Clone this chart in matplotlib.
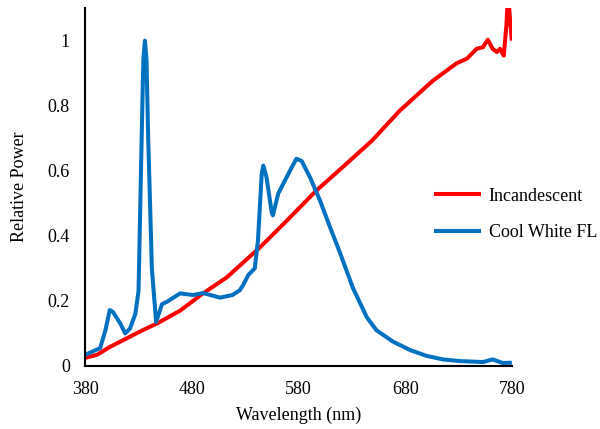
import numpy as np
from matplotlib import pyplot as plt

plt.rcParams['font.family'] = ['Liberation Serif', 'DejaVu Serif']

# Incandescent
wl_inc = [380, 391, 403, 419, 434, 447, 469, 490, 513, 544, 570, 597, 620, 649,
          675, 706, 728, 738, 747, 753, 757.5, 762, 766, 769, 772.5, 775, 776.5, 778, 780]
p_inc = [0.025, 0.034, 0.058, 0.085, 0.11, 0.13, 0.17, 0.222, 0.273, 0.365, 0.45, 0.54, 0.607, 0.693,
         0.785, 0.877, 0.93, 0.945, 0.975, 0.98, 1.003, 0.975, 0.965, 0.975, 0.954, 1.05, 1.15, 1.08, 1.0]

# Cool White FL
wl_cw = [380, 394, 399, 403, 406, 413, 417.5, 422, 427, 430, 433, 434.5, 436, 437.5, 439, 442.5, 446.5,
         452, 456.5, 469, 481, 490.5, 506.5, 518, 525, 528, 533, 539, 542, 545.5, 547, 550,
         555, 556, 561, 565.7, 572, 578, 583, 590.8, 600, 609.5, 619, 631, 644, 653, 668.5,
         684.5, 700, 715.5, 731, 753, 762, 771.5, 780]
p_cw = [0.034, 0.055, 0.11, 0.172, 0.166, 0.13, 0.10, 0.115, 0.16, 0.23, 0.71, 0.94, 1.0, 0.94, 0.71, 0.30, 0.135,
        0.19, 0.197, 0.223, 0.218, 0.224, 0.21, 0.218, 0.233, 0.248, 0.28, 0.30, 0.386, 0.59, 0.616, 0.58,
        0.47, 0.463, 0.53, 0.56, 0.60, 0.637, 0.63, 0.58, 0.51, 0.427, 0.347, 0.24, 0.15, 0.11, 0.075,
        0.049, 0.031, 0.02, 0.015, 0.012, 0.02, 0.009, 0.01]

fig = plt.figure(figsize=(6, 4.29), dpi=100)
ax = fig.add_axes([0.142, 0.147, 0.711, 0.834])

ax.plot(wl_inc, p_inc, color='#FF0000', lw=2.9, label='Incandescent',
        solid_capstyle='butt', solid_joinstyle='round')
ax.plot(wl_cw, p_cw, color='#0070C0', lw=2.9, label='Cool White FL',
        solid_capstyle='butt', solid_joinstyle='round')

ax.set_xlim(380, 780)
ax.set_ylim(0, 1.1)
ax.set_xticks([380, 480, 580, 680, 780])
ax.set_yticks([0, 0.2, 0.4, 0.6, 0.8, 1])
ax.set_yticklabels(['0', '0.2', '0.4', '0.6', '0.8', '1'])
ax.tick_params(length=0, pad=11, labelsize=13)
for s in ['top', 'right']:
    ax.spines[s].set_visible(False)
for s in ['left', 'bottom']:
    ax.spines[s].set_linewidth(1.5)

ax.set_xlabel('Wavelength (nm)', fontsize=13, labelpad=6)
ax.set_ylabel('Relative Power', fontsize=13, labelpad=14)

ax.legend(loc='center left', bbox_to_anchor=(0.697, 0.50), bbox_transform=fig.transFigure,
          frameon=False, fontsize=13, handlelength=2.6, handletextpad=0.4, labelspacing=1.1)

fig.savefig('out.png', dpi=100)
